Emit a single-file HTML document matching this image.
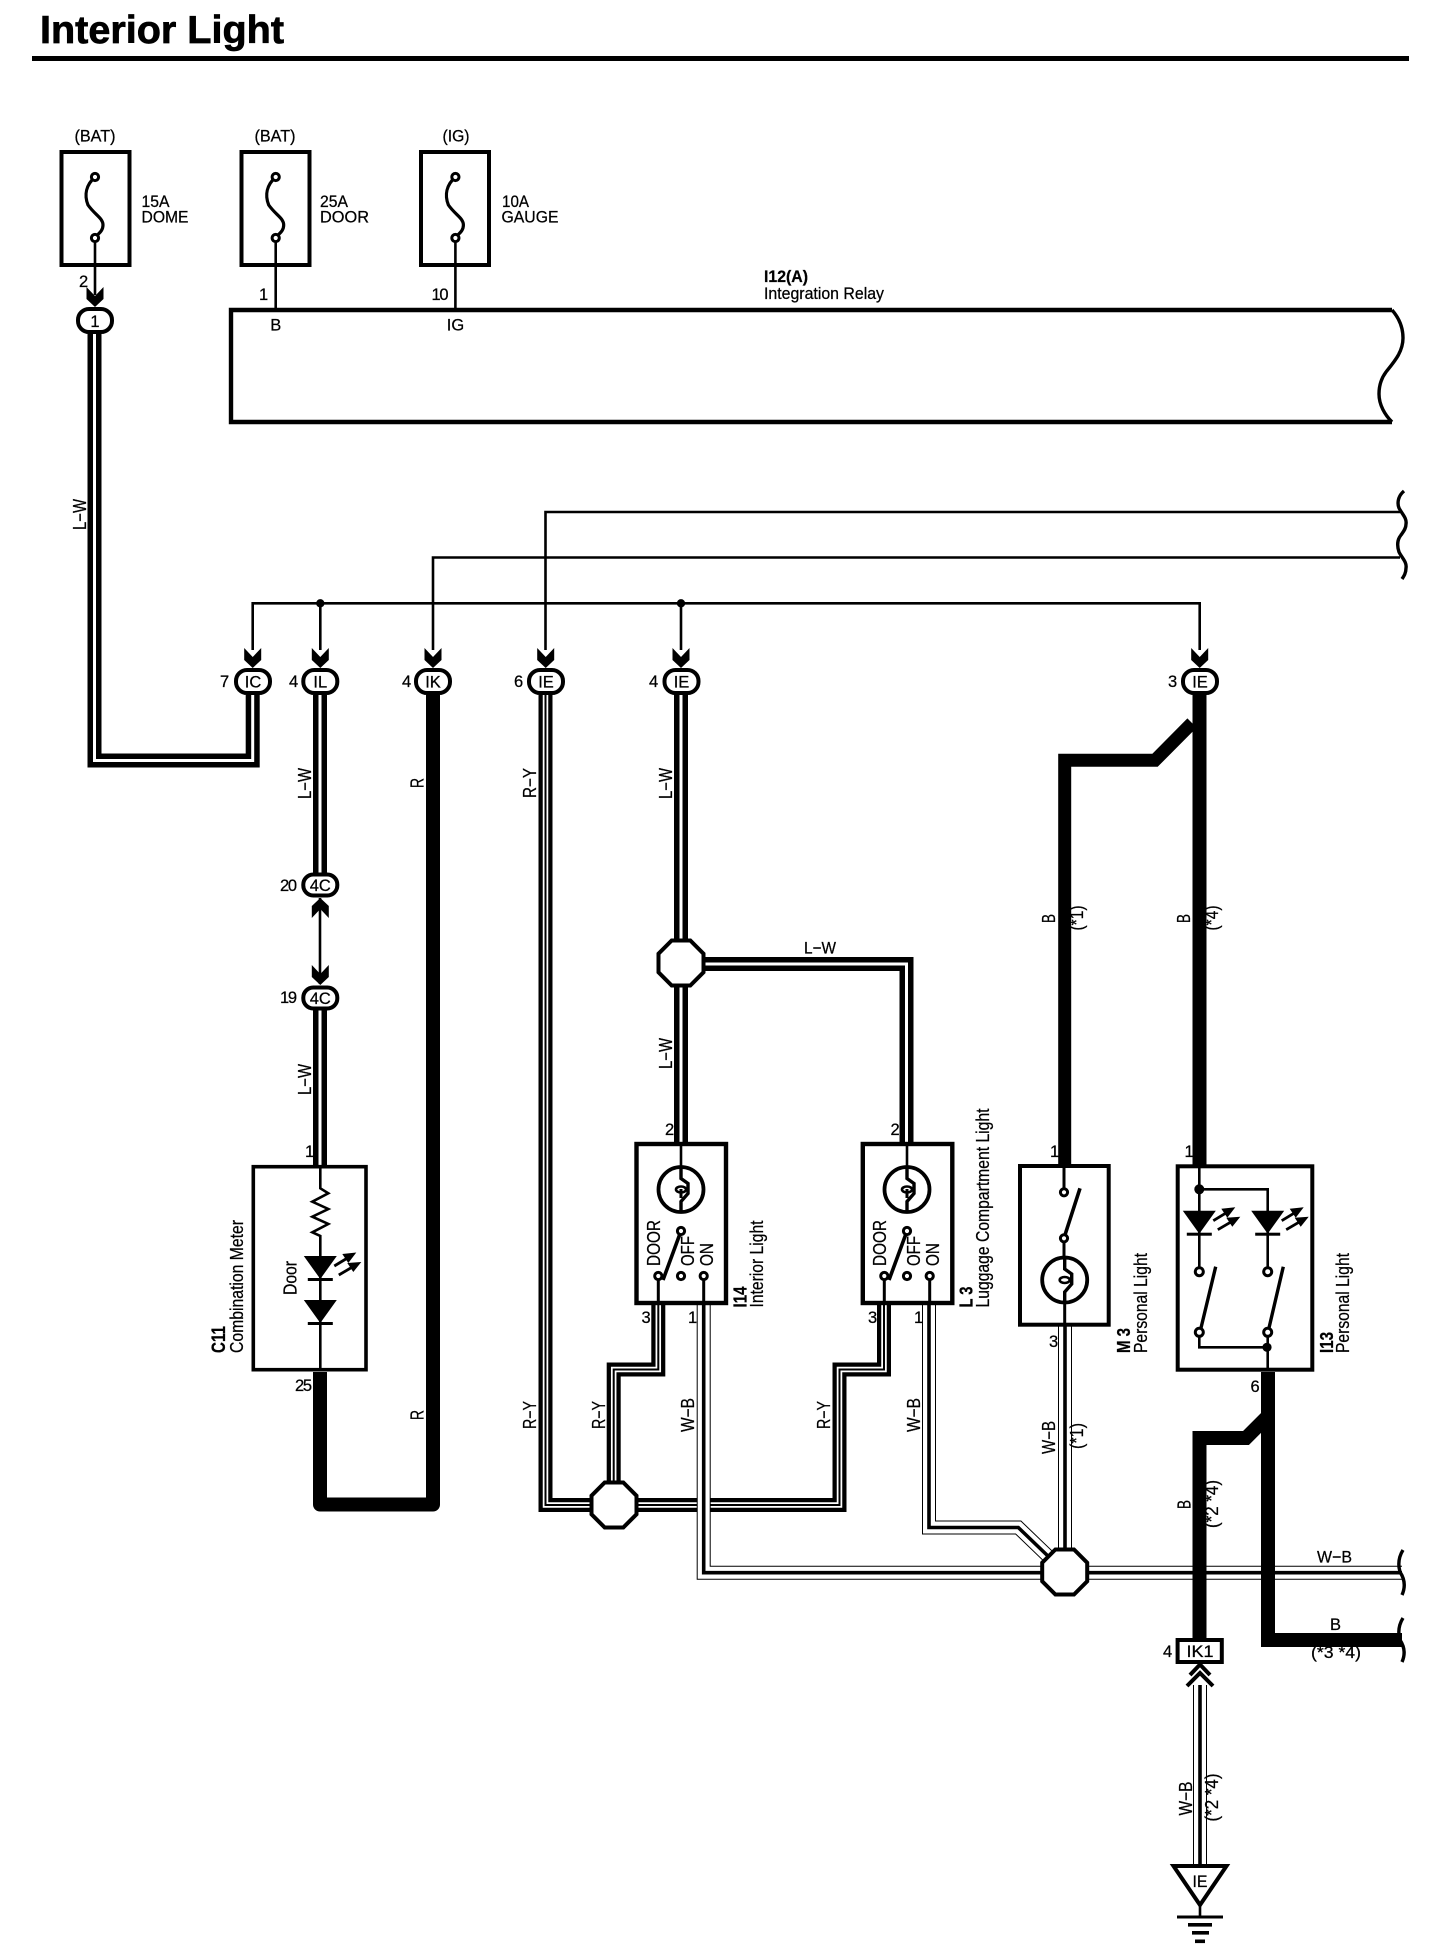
<!DOCTYPE html>
<html><head><meta charset="utf-8"><title>Interior Light</title>
<style>
html,body{margin:0;padding:0;background:#fff}
svg{display:block}
text{font-family:"Liberation Sans",Arial,sans-serif;font-size:16.5px;fill:#000;stroke:#000;stroke-width:.25}
text[transform]{font-size:18px}
.b{font-weight:bold}
.n{fill:none;stroke:#000}
.t{fill:none;stroke:#000;stroke-width:2.6}
.k{fill:none;stroke:#000;stroke-width:14;stroke-linejoin:miter}
.w3{fill:none;stroke:#fff;stroke-width:3}
.w5{fill:none;stroke:#fff;stroke-width:5.5}
.k2{fill:none;stroke:#000;stroke-width:2}
.w12{fill:none;stroke:#fff;stroke-width:12}
.k3{fill:none;stroke:#000;stroke-width:3.6}
.box{fill:#fff;stroke:#000;stroke-width:4}
.p{fill:#fff;stroke:#000;stroke-width:4}
.c{fill:#fff;stroke:#000;stroke-width:3}
.m{text-anchor:middle}
</style></head>
<body>
<svg width="1456" height="1958" viewBox="0 0 1456 1958" xmlns="http://www.w3.org/2000/svg">
<defs>
<polygon id="oct" class="p" points="-9.3,-22.5 9.3,-22.5 22.5,-9.3 22.5,9.3 9.3,22.5 -9.3,22.5 -22.5,9.3 -22.5,-9.3"/>
<polygon id="arr" points="-8.5,-20 0,-11 8.5,-20 8.5,-8 0,0 -8.5,-8"/>
<rect id="pill" class="p" x="-17" y="-11.5" width="34" height="23" rx="11"/>
<rect id="pills" class="p" x="-17" y="-10.5" width="34" height="21" rx="10"/>
<g id="fuse">
<path class="n" stroke-width="3.2" d="M0,0 C-9,8 -11,18 -7,28 C0,38 8,41 8,48 C8,55 2,57 0,61"/>
<circle class="c" cx="0" cy="0" r="3.6"/><circle class="c" cx="0" cy="61" r="3.6"/>
</g>
<g id="led">
<polygon points="-16.5,0 16.5,0 0,23"/>
<rect x="-12.5" y="22" width="25" height="3"/>
</g>
<g id="rays">
<path class="n" stroke-width="2.8" d="M14,10 L28,1.5"/><polygon points="36,-3.5 22,-2 28,7"/>
<path class="n" stroke-width="2.8" d="M18.5,19 L33,10.5"/><polygon points="41,6 27,7 33,16"/>
</g>
<g id="lamp">
<circle cx="0" cy="0" r="22.5" fill="#fff" stroke="#000" stroke-width="3.8"/>
<path class="n" stroke-width="3.4" d="M0,-24 V-11 L7,-6 V4 L0,12 V24"/>
<ellipse cx="0" cy="0" rx="5" ry="3" fill="#fff" stroke="#000" stroke-width="2.6"/>
</g>
<g id="sw">
<path class="n" stroke-width="3" d="M0,-42 V-33"/>
<path class="n" stroke-width="3.6" d="M0,0 L-18,49"/>
<path class="n" stroke-width="3" d="M-22.7,45 V72 M22.7,45 V72"/>
<circle class="c" cx="0" cy="0" r="3.6"/>
<circle class="c" cx="-22.7" cy="45" r="3.6"/>
<circle class="c" cx="0" cy="45" r="3.6"/>
<circle class="c" cx="22.7" cy="45" r="3.6"/>
</g>
</defs>

<!-- title -->
<text class="b" x="40" y="43" style="font-size:39px;stroke-width:.7" textLength="244" lengthAdjust="spacingAndGlyphs">Interior Light</text>
<rect x="32" y="56" width="1377" height="5"/>

<!-- fuses -->
<rect class="box" x="61.5" y="152" width="68" height="113"/>
<rect class="box" x="241.5" y="152" width="68" height="113"/>
<rect class="box" x="421" y="152" width="68" height="113"/>
<use href="#fuse" x="95" y="177"/><use href="#fuse" x="275.7" y="177"/><use href="#fuse" x="455.4" y="177"/>
<path class="t" d="M95,241 V295 M275.7,241 V310 M455.4,241 V310"/>
<text x="95" y="141.5" class="m" textLength="41" lengthAdjust="spacingAndGlyphs">(BAT)</text>
<text x="275" y="141.5" class="m" textLength="41" lengthAdjust="spacingAndGlyphs">(BAT)</text>
<text x="456" y="141.5" class="m" textLength="27" lengthAdjust="spacingAndGlyphs">(IG)</text>
<text x="141.5" y="207" textLength="28" lengthAdjust="spacingAndGlyphs">15A</text>
<text x="141.5" y="222.5" textLength="47" lengthAdjust="spacingAndGlyphs">DOME</text>
<text x="320" y="207" textLength="28" lengthAdjust="spacingAndGlyphs">25A</text>
<text x="320" y="222.5" textLength="49" lengthAdjust="spacingAndGlyphs">DOOR</text>
<text x="502" y="207" textLength="27" lengthAdjust="spacingAndGlyphs">10A</text>
<text x="501.5" y="222.5" textLength="57" lengthAdjust="spacingAndGlyphs">GAUGE</text>
<text x="79" y="287">2</text><text x="259" y="300">1</text><text x="431.5" y="300" textLength="17">10</text>

<!-- relay -->
<path class="n" stroke-width="4.4" d="M1392,310 H231 V422 H1392"/>
<path class="n" stroke-width="3.4" d="M1392,310 C1399,318 1403,328 1403,338 C1403,352 1394,362 1386,372 C1380,380 1379,388 1379,394 C1379,405 1385,415 1392,422"/>
<text class="m" x="275.8" y="330.5">B</text><text class="m" x="455.5" y="330.5">IG</text>
<text class="b" x="764" y="282" textLength="44" lengthAdjust="spacingAndGlyphs">I12(A)</text>
<text x="764" y="299" textLength="120" lengthAdjust="spacingAndGlyphs">Integration Relay</text>

<!-- bus wires -->
<path class="t" d="M252.7,650 V603.3 H1199.7 V650"/>
<path class="t" d="M320.3,603.3 V650 M681,603.3 V650"/>
<path class="t" d="M433,650 V557.5 H1400"/>
<path class="t" d="M545.5,650 V512 H1400"/>
<circle cx="320.3" cy="603.3" r="4.2"/><circle cx="681" cy="603.3" r="4.2"/>
<path class="n" stroke-width="3.4" d="M1404,491 C1398,496 1397,503 1399,508 C1402,514 1407,518 1406,524 C1406,529 1403,532 1401,535 C1397,540 1397,546 1399,552 C1402,558 1407,562 1406,568 C1406,573 1404,576 1402,579"/>

<!-- L-W wires -->
<path class="k" d="M94.5,333 V760.5 H252.7 V695"/><path class="w3" d="M94.5,333 V760.5 H252.7 V695"/>
<path class="k" d="M320,695 V873"/><path class="w3" d="M320,695 V873"/>
<path class="t" d="M320,898 V984"/>
<path class="k" d="M320,1010 V1165"/><path class="w3" d="M320,1010 V1165"/>
<path class="k" d="M681,694 V1142"/><path class="w3" d="M681,694 V1142"/>
<path class="k" d="M700,964 H906.5 V1142"/><path class="w3" d="M700,964 H906.5 V1142"/>

<!-- R wire -->
<path class="k" style="stroke-linejoin:round" d="M320,1372 V1504.5 H433 V695"/>

<!-- R-Y wires -->
<path class="k" d="M545.5,695 V1505 H600"/><path class="w5" d="M545.5,695 V1505 H600"/><path class="k2" d="M545.5,695 V1505 H600"/>
<path class="k" d="M658.3,1305 V1369.5 H613.7 V1490"/><path class="w5" d="M658.3,1305 V1369.5 H613.7 V1490"/><path class="k2" d="M658.3,1305 V1369.5 H613.7 V1490"/>
<path class="k" d="M884,1305 V1369.5 H839.5 V1505 H630"/><path class="w5" d="M884,1305 V1369.5 H839.5 V1505 H630"/><path class="k2" d="M884,1305 V1369.5 H839.5 V1505 H630"/>

<!-- W-B wires -->
<path class="k" d="M703.7,1305 V1572.7 H1402"/><path class="w12" d="M703.7,1305 V1572.7 H1402"/><path class="k3" d="M703.7,1305 V1572.7 H1402"/>
<path class="k" d="M929,1305 V1527.5 H1018.3 L1050,1558"/><path class="w12" d="M929,1305 V1527.5 H1018.3 L1050,1558"/><path class="k3" d="M929,1305 V1527.5 H1018.3 L1050,1558"/>
<path class="k" d="M1065,1326 V1555"/><path class="w12" d="M1065,1326 V1555"/><path class="k3" d="M1065,1326 V1555"/>
<path class="k" d="M1200,1685 V1866"/><path class="w12" d="M1200,1685 V1866"/><path class="k3" d="M1200,1685 V1866"/>

<!-- B wires -->
<path class="k" d="M1199.5,694 V1165"/>
<path class="k" d="M1192,723 L1155,760.3 H1064.7 V1165" style="stroke-width:13"/>
<path class="k" d="M1268,1372 V1640 H1402"/>
<path class="k" d="M1268,1416 L1246,1438 H1199.5 V1640"/>

<!-- wave ends -->
<path class="n" stroke-width="3.4" d="M1403,1550 C1398,1558 1398,1565 1400,1572 C1404,1578 1406,1586 1402,1595"/>
<path class="n" stroke-width="3.4" d="M1403,1618 C1398,1626 1398,1633 1400,1640 C1404,1646 1406,1653 1402,1662"/>

<!-- octagons -->
<use href="#oct" x="681" y="963"/><use href="#oct" x="614" y="1505"/><use href="#oct" x="1064.7" y="1572"/>

<!-- connectors -->
<use href="#arr" x="95" y="307"/>
<use href="#pill" x="95" y="320.5"/>
<use href="#arr" x="252.7" y="668"/><use href="#arr" x="320.3" y="668"/><use href="#arr" x="433" y="668"/><use href="#arr" x="545.7" y="668"/><use href="#arr" x="681" y="668"/><use href="#arr" x="1199.7" y="668"/>
<use href="#pill" x="253" y="681.5"/><use href="#pill" x="320.3" y="681.5"/><use href="#pill" x="433" y="681.5"/><use href="#pill" x="546" y="681.5"/><use href="#pill" x="681.5" y="681.5"/><use href="#pill" x="1200" y="681.5"/>
<use href="#pills" x="320.3" y="885"/><use href="#pills" x="320.3" y="998"/>
<polygon points="320.3,898 328.8,906 328.8,918 320.3,909 311.8,918 311.8,906"/>
<use href="#arr" x="320.3" y="985"/>
<text class="m" x="95" y="327">1</text>
<text class="m" x="253" y="687.5">IC</text><text class="m" x="320.3" y="687.5">IL</text><text class="m" x="433" y="687.5">IK</text><text class="m" x="546" y="687.5">IE</text><text class="m" x="681.5" y="687.5">IE</text><text class="m" x="1200" y="687.5">IE</text>
<text class="m" x="320.3" y="891">4C</text><text class="m" x="320.3" y="1004">4C</text>
<text x="220" y="687">7</text><text x="289" y="687">4</text><text x="402" y="687">4</text><text x="514" y="687">6</text><text x="649" y="687">4</text><text x="1168" y="687">3</text>
<text x="280" y="891" textLength="17">20</text><text x="280" y="1003" textLength="17">19</text>

<!-- C11 -->
<rect class="box" x="253.3" y="1166.7" width="112.7" height="203" style="stroke-width:3.6"/>
<path class="t" d="M320.3,1166 V1188.3 L328.3,1193.3 L312.3,1201.7 L328.3,1209 L312.3,1216.7 L328.3,1224 L312.3,1232.3 L320.3,1236 V1370"/>
<use href="#led" x="320.3" y="1256"/><use href="#led" x="320.3" y="1300"/><use href="#rays" x="320.3" y="1256"/>
<text x="305" y="1157">1</text><text x="295" y="1391" textLength="17">25</text>
<text class="b" transform="translate(225,1353) rotate(-90)" style="font-size:19px" textLength="27" lengthAdjust="spacingAndGlyphs">C11</text>
<text transform="translate(243,1353) rotate(-90)" textLength="133" lengthAdjust="spacingAndGlyphs">Combination Meter</text>
<text transform="translate(296.5,1295) rotate(-90)" textLength="34" lengthAdjust="spacingAndGlyphs">Door</text>

<!-- I14 -->
<rect class="box" x="636.5" y="1144" width="89.5" height="159" style="stroke-width:4.4"/>
<path class="t" d="M681,1144 V1166"/>
<use href="#lamp" x="681" y="1189.5"/>
<use href="#sw" x="681" y="1231"/>
<text transform="translate(660,1266) rotate(-90)" textLength="46" lengthAdjust="spacingAndGlyphs">DOOR</text>
<text transform="translate(694,1266) rotate(-90)" textLength="30" lengthAdjust="spacingAndGlyphs">OFF</text>
<text transform="translate(713,1266) rotate(-90)" textLength="23" lengthAdjust="spacingAndGlyphs">ON</text>
<text x="665" y="1135">2</text><text x="641.5" y="1323">3</text><text x="688" y="1323">1</text>
<text class="b" transform="translate(746.5,1307.5) rotate(-90)" textLength="21" lengthAdjust="spacingAndGlyphs">I14</text>
<text transform="translate(763,1307.5) rotate(-90)" textLength="87" lengthAdjust="spacingAndGlyphs">Interior Light</text>

<!-- L3 -->
<rect class="box" x="862.8" y="1144" width="89.5" height="159" style="stroke-width:4.4"/>
<path class="t" d="M907,1144 V1166"/>
<use href="#lamp" x="907" y="1189.5"/>
<use href="#sw" x="907" y="1231"/>
<text transform="translate(886,1266) rotate(-90)" textLength="46" lengthAdjust="spacingAndGlyphs">DOOR</text>
<text transform="translate(920,1266) rotate(-90)" textLength="30" lengthAdjust="spacingAndGlyphs">OFF</text>
<text transform="translate(939,1266) rotate(-90)" textLength="23" lengthAdjust="spacingAndGlyphs">ON</text>
<text x="890.5" y="1135">2</text><text x="868" y="1323">3</text><text x="914" y="1323">1</text>
<text class="b" transform="translate(972.5,1307.5) rotate(-90)" textLength="21" lengthAdjust="spacingAndGlyphs">L 3</text>
<text transform="translate(989,1307.5) rotate(-90)" textLength="199" lengthAdjust="spacingAndGlyphs">Luggage Compartment Light</text>

<!-- M3 -->
<rect class="box" x="1020" y="1166" width="88.7" height="158.7"/>
<path class="n" stroke-width="3" d="M1064,1166 V1190 M1064,1238 V1258 M1064.7,1302 V1326"/>
<path class="n" stroke-width="3.6" d="M1064,1238 L1080,1188.3"/>
<circle class="c" cx="1064" cy="1192.3" r="3.6"/><circle class="c" cx="1064" cy="1238.3" r="3.6"/>
<use href="#lamp" x="1064.7" y="1280"/>
<text x="1050" y="1157">1</text><text x="1049" y="1347">3</text>
<text class="b" transform="translate(1130,1353) rotate(-90)" textLength="25" lengthAdjust="spacingAndGlyphs">M 3</text>
<text transform="translate(1147,1353) rotate(-90)" textLength="100" lengthAdjust="spacingAndGlyphs">Personal Light</text>

<!-- I13 -->
<rect class="box" x="1177.7" y="1166.3" width="134.6" height="203.4"/>
<path class="t" d="M1199.3,1166 V1272 M1199.3,1189.3 H1267.7 V1272"/>
<circle cx="1199.3" cy="1189.3" r="5"/>
<use href="#led" x="1199.3" y="1210.7"/><use href="#rays" x="1199.3" y="1210.7"/>
<use href="#led" x="1267.7" y="1210.7"/><use href="#rays" x="1267.7" y="1210.7"/>
<path class="n" stroke-width="3.4" d="M1200.5,1330 L1215.7,1266.7 M1268.5,1330 L1283.3,1266.7"/>
<path class="t" d="M1199.3,1336 V1347.3 H1267.7 M1267.7,1336 V1370"/>
<circle cx="1267" cy="1347.3" r="4.6"/>
<circle class="c" cx="1199.3" cy="1271.7" r="4"/><circle class="c" cx="1267.7" cy="1271.7" r="4"/>
<circle class="c" cx="1199.3" cy="1332.3" r="4"/><circle class="c" cx="1267.7" cy="1332.3" r="4"/>
<text x="1184.5" y="1157">1</text><text x="1250.5" y="1392">6</text>
<text class="b" transform="translate(1333,1353) rotate(-90)" textLength="21" lengthAdjust="spacingAndGlyphs">I13</text>
<text transform="translate(1349,1353) rotate(-90)" textLength="100" lengthAdjust="spacingAndGlyphs">Personal Light</text>

<!-- IK1 + ground -->
<rect class="box" x="1177.6" y="1640" width="44.2" height="22"/>
<text class="m" x="1200" y="1657" textLength="27" lengthAdjust="spacingAndGlyphs">IK1</text>
<text x="1163" y="1657">4</text>
<path class="n" stroke-width="4" d="M1190,1675 L1200,1664.5 L1210,1675 M1187,1686 L1200,1673 L1213,1686"/>
<polygon class="box" points="1173.5,1866 1226.5,1866 1200,1905"/>
<text class="m" x="1200" y="1887" textLength="15" lengthAdjust="spacingAndGlyphs">IE</text>
<path class="t" d="M1200,1905 V1917"/>
<rect x="1177" y="1915.5" width="46" height="3"/>
<rect x="1188" y="1923" width="24" height="3.6"/>
<rect x="1192" y="1931" width="17" height="3.6"/>
<rect x="1195" y="1939.5" width="10" height="3.6"/>

<!-- wire labels rotated -->
<text transform="translate(86,530) rotate(-90)" textLength="31" lengthAdjust="spacingAndGlyphs">L−W</text>
<text transform="translate(311,799) rotate(-90)" textLength="31" lengthAdjust="spacingAndGlyphs">L−W</text>
<text transform="translate(311,1095) rotate(-90)" textLength="31" lengthAdjust="spacingAndGlyphs">L−W</text>
<text transform="translate(423.5,788) rotate(-90)" textLength="10" lengthAdjust="spacingAndGlyphs">R</text>
<text transform="translate(423.5,1420) rotate(-90)" textLength="10" lengthAdjust="spacingAndGlyphs">R</text>
<text transform="translate(536,798) rotate(-90)" textLength="30" lengthAdjust="spacingAndGlyphs">R−Y</text>
<text transform="translate(672,799) rotate(-90)" textLength="31" lengthAdjust="spacingAndGlyphs">L−W</text>
<text transform="translate(672,1069) rotate(-90)" textLength="31" lengthAdjust="spacingAndGlyphs">L−W</text>
<text x="804" y="953.5" textLength="32" lengthAdjust="spacingAndGlyphs">L−W</text>
<text transform="translate(536,1429) rotate(-90)" textLength="28" lengthAdjust="spacingAndGlyphs">R−Y</text>
<text transform="translate(605,1429) rotate(-90)" textLength="28" lengthAdjust="spacingAndGlyphs">R−Y</text>
<text transform="translate(830,1429) rotate(-90)" textLength="28" lengthAdjust="spacingAndGlyphs">R−Y</text>
<text transform="translate(694,1432) rotate(-90)" textLength="34" lengthAdjust="spacingAndGlyphs">W−B</text>
<text transform="translate(920,1432) rotate(-90)" textLength="34" lengthAdjust="spacingAndGlyphs">W−B</text>
<text transform="translate(1055,1454) rotate(-90)" textLength="33" lengthAdjust="spacingAndGlyphs">W−B</text>
<text transform="translate(1083,1449) rotate(-90)" textLength="26" lengthAdjust="spacingAndGlyphs">(*1)</text>
<text transform="translate(1055,923) rotate(-90)" textLength="9" lengthAdjust="spacingAndGlyphs">B</text>
<text transform="translate(1083,930.5) rotate(-90)" textLength="25" lengthAdjust="spacingAndGlyphs">(*1)</text>
<text transform="translate(1190,923) rotate(-90)" textLength="9" lengthAdjust="spacingAndGlyphs">B</text>
<text transform="translate(1218,930.5) rotate(-90)" textLength="25" lengthAdjust="spacingAndGlyphs">(*4)</text>
<text transform="translate(1190.5,1509) rotate(-90)" textLength="9" lengthAdjust="spacingAndGlyphs">B</text>
<text transform="translate(1218,1528) rotate(-90)" textLength="48" lengthAdjust="spacingAndGlyphs">(*2 *4)</text>
<text transform="translate(1192,1815.5) rotate(-90)" textLength="34" lengthAdjust="spacingAndGlyphs">W−B</text>
<text transform="translate(1218,1821.5) rotate(-90)" textLength="48" lengthAdjust="spacingAndGlyphs">(*2 *4)</text>
<text x="1317" y="1562.5" textLength="35" lengthAdjust="spacingAndGlyphs">W−B</text>
<text x="1330" y="1630">B</text>
<text x="1311" y="1658" textLength="50" lengthAdjust="spacingAndGlyphs">(*3 *4)</text>
</svg>
</body></html>
